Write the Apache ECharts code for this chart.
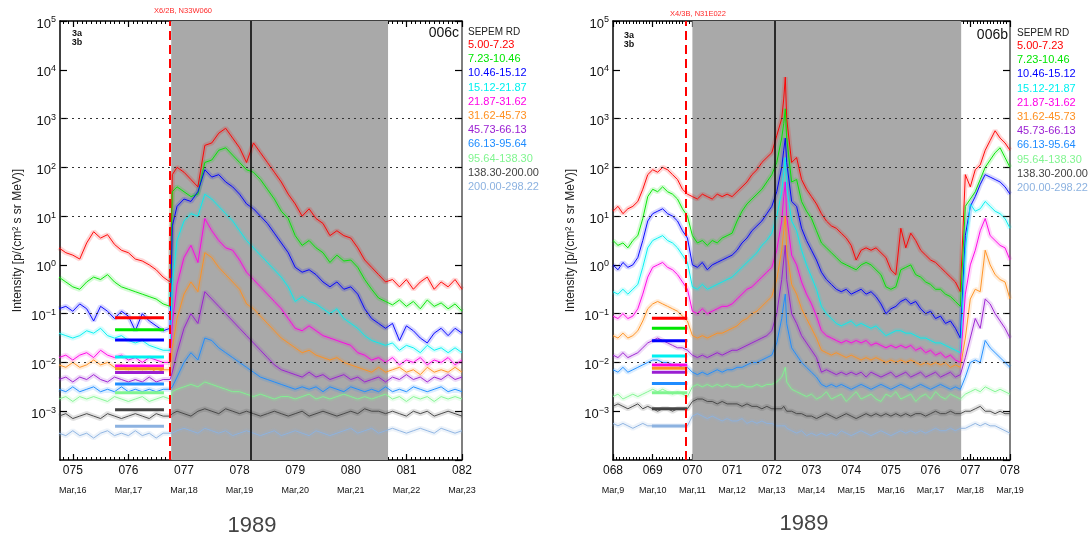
<!DOCTYPE html>
<html><head><meta charset="utf-8">
<script src="https://cdn.jsdelivr.net/npm/echarts@6/dist/echarts.min.js"></script>
<style>html,body{margin:0;padding:0;background:#fff}#c{width:1092px;height:541px}</style>
</head><body><div id="c"></div>
<script>
// ---------- categories / labels ----------
const channels = ['5.00-7.23','7.23-10.46','10.46-15.12','15.12-21.87','21.87-31.62','31.62-45.73','45.73-66.13','66.13-95.64','95.64-138.30','138.30-200.00','200.00-298.22'];
const channelColors = ['#ff0000','#00e600','#0000ff','#00f0f0','#ff00e6','#ff9020','#9a1ed2','#1e8cff','#80f590','#444444','#8cb2e0'];
const leftDays = [75,76,77,78,79,80,81,82];
const leftDayLabels = ['075','076','077','078','079','080','081','082'];
const leftDateLabels = ['Mar,16','Mar,17','Mar,18','Mar,19','Mar,20','Mar,21','Mar,22','Mar,23'];
const rightDays = [68,69,70,71,72,73,74,75,76,77,78];
const rightDayLabels = ['068','069','070','071','072','073','074','075','076','077','078'];
const rightDateLabels = ['Mar,9','Mar,10','Mar,11','Mar,12','Mar,13','Mar,14','Mar,15','Mar,16','Mar,17','Mar,18','Mar,19'];
const refLevels = [1000, 100, 10, 0.1, 0.005];

// ---------- event markers (day of year) ----------
const leftRange = [74.77, 82];
const rightRange = [68, 78];
const leftShade = [76.77, 80.67];
const rightShade = [70.0, 76.77];
const leftFlare = 76.75, rightFlare = 69.84;
const leftLine = 78.2, rightLine = 72.08;
const leftFlareText = 'X6/2B, N33W060';
const rightFlareText = 'X4/3B, N31E022';

// ---------- threshold bars ----------
const leftBarSpan = [75.76, 76.64];
const leftBarLevels = [0.082, 0.047, 0.029, 0.013, 0.0085, 0.0074, 0.0062, 0.0036, 0.0024, 0.00107, 0.00049];
const rightBarSpan = [68.98, 69.87];
const rightBarLevels = [0.081, 0.05, 0.028, 0.0135, 0.0089, 0.0076, 0.0063, 0.0037, 0.0024, 0.00112, 0.0005];

// ---------- left panel (log10 intensity) ----------
const leftT = [74.75,74.875,75,75.125,75.25,75.375,75.5,75.625,75.75,75.875,76,76.125,76.25,76.375,76.5,76.625,76.75,76.79,76.875,77,77.125,77.25,77.375,77.5,77.625,77.75,77.875,78,78.125,78.25,78.375,78.5,78.625,78.75,78.875,79,79.125,79.25,79.375,79.5,79.625,79.75,79.875,80,80.125,80.25,80.375,80.5,80.625,80.75,80.875,81,81.125,81.25,81.375,81.5,81.625,81.75,81.875,82];
const leftRed = [0.35,0.25,0.2,0.12,0.45,0.68,0.55,0.62,0.42,0.3,0.25,0.12,0.08,0.0,-0.1,-0.25,-0.35,1.85,2.0,1.9,1.75,1.6,2.45,2.5,2.7,2.8,2.6,2.4,2.1,2.5,2.3,2.1,1.9,1.7,1.45,1.25,1.0,1.15,0.95,0.85,0.6,0.7,0.6,0.55,0.35,0.1,-0.05,-0.2,-0.35,-0.3,-0.45,-0.3,-0.5,-0.35,-0.25,-0.5,-0.35,-0.45,-0.3,-0.5];
const leftGreen = [-0.25,-0.35,-0.45,-0.5,-0.35,-0.25,-0.3,-0.2,-0.35,-0.45,-0.5,-0.55,-0.6,-0.65,-0.7,-0.8,-0.85,1.5,1.6,1.5,1.4,1.45,2.1,2.15,2.35,2.4,2.25,2.1,1.95,1.9,1.75,1.55,1.35,1.1,0.95,0.6,0.4,0.5,0.35,0.25,0.05,0.2,0.08,0.1,-0.05,-0.3,-0.5,-0.68,-0.75,-0.82,-0.72,-0.85,-0.75,-0.9,-0.72,-0.85,-0.78,-0.9,-0.8,-0.95];
const leftBlue = [-0.9,-0.85,-0.95,-0.8,-0.9,-1.15,-0.85,-0.95,-1.1,-0.95,-1.05,-1.35,-1.0,-1.15,-1.25,-1.35,-1.3,0.8,1.2,1.35,1.3,1.5,1.95,1.8,1.85,1.7,1.6,1.45,1.25,1.15,1.0,0.85,0.65,0.45,0.25,-0.05,-0.15,-0.1,-0.2,-0.35,-0.45,-0.35,-0.5,-0.45,-0.6,-0.9,-1.1,-1.2,-1.3,-1.2,-1.55,-1.25,-1.35,-1.5,-1.6,-1.4,-1.3,-1.45,-1.3,-1.4];
const leftCyan = [-1.4,-1.45,-1.5,-1.45,-1.35,-1.4,-1.3,-1.45,-1.5,-1.45,-1.55,-1.6,-1.55,-1.65,-1.7,-1.75,-1.75,-0.4,0.5,0.9,1.05,1.0,1.45,1.35,1.2,1.05,0.9,0.7,0.5,0.35,0.2,0.05,-0.1,-0.25,-0.45,-0.75,-0.65,-0.75,-0.8,-0.9,-1.0,-0.9,-1.1,-1.2,-1.3,-1.45,-1.55,-1.6,-1.65,-1.6,-1.75,-1.65,-1.7,-1.8,-1.65,-1.75,-1.7,-1.8,-1.7,-1.8];
const leftMagenta = [-1.9,-1.85,-1.95,-1.85,-1.8,-1.9,-1.75,-1.85,-1.9,-1.85,-1.95,-1.9,-2.0,-1.9,-1.95,-2.0,-2.0,-1.2,-0.4,0.15,0.4,0.05,0.95,0.7,0.5,0.35,0.3,0.1,-0.15,-0.3,-0.45,-0.6,-0.75,-0.9,-1.1,-1.3,-1.35,-1.25,-1.35,-1.45,-1.5,-1.55,-1.6,-1.65,-1.8,-1.85,-1.95,-1.9,-2.0,-1.9,-2.05,-1.95,-2.0,-1.9,-2.05,-1.95,-2.0,-1.9,-2.05,-1.95];
const leftOrange = [-2.05,-2.1,-2.0,-2.1,-2.05,-1.95,-2.05,-2.0,-2.1,-2.05,-2.15,-2.1,-2.15,-2.1,-2.2,-2.15,-2.15,-1.7,-1.1,-0.6,-0.35,-0.55,0.25,0.15,-0.05,-0.2,-0.35,-0.5,-0.8,-0.9,-1.05,-1.2,-1.35,-1.5,-1.6,-1.7,-1.8,-1.75,-1.85,-1.9,-1.95,-1.9,-2.0,-2.05,-2.1,-2.15,-2.2,-2.1,-2.2,-2.15,-2.1,-2.2,-2.15,-2.25,-2.1,-2.2,-2.15,-2.2,-2.1,-2.2];
const leftPurple = [-2.35,-2.3,-2.4,-2.3,-2.35,-2.25,-2.35,-2.4,-2.3,-2.35,-2.4,-2.35,-2.4,-2.3,-2.4,-2.35,-2.35,-2.2,-1.8,-1.3,-1.0,-1.2,-0.55,-0.7,-0.85,-1.0,-1.15,-1.3,-1.45,-1.6,-1.75,-1.9,-2.05,-2.15,-2.2,-2.25,-2.3,-2.2,-2.3,-2.25,-2.35,-2.3,-2.25,-2.35,-2.3,-2.4,-2.35,-2.3,-2.4,-2.3,-2.35,-2.25,-2.35,-2.3,-2.4,-2.3,-2.35,-2.25,-2.35,-2.3];
const leftAzure = [-2.55,-2.6,-2.5,-2.6,-2.55,-2.5,-2.6,-2.55,-2.6,-2.5,-2.6,-2.55,-2.6,-2.55,-2.6,-2.55,-2.55,-2.5,-2.3,-2.0,-1.8,-1.95,-1.5,-1.55,-1.7,-1.8,-1.9,-2.0,-2.1,-2.2,-2.3,-2.35,-2.4,-2.45,-2.5,-2.55,-2.5,-2.55,-2.5,-2.6,-2.5,-2.55,-2.6,-2.5,-2.55,-2.6,-2.55,-2.6,-2.5,-2.6,-2.55,-2.6,-2.5,-2.55,-2.6,-2.55,-2.5,-2.6,-2.55,-2.6];
const leftLightGreen = [-2.75,-2.7,-2.8,-2.7,-2.75,-2.7,-2.75,-2.8,-2.7,-2.75,-2.8,-2.75,-2.7,-2.8,-2.75,-2.7,-2.75,-2.6,-2.55,-2.5,-2.45,-2.5,-2.4,-2.45,-2.5,-2.55,-2.6,-2.6,-2.65,-2.7,-2.65,-2.7,-2.75,-2.7,-2.7,-2.75,-2.7,-2.65,-2.75,-2.7,-2.75,-2.7,-2.65,-2.7,-2.75,-2.7,-2.75,-2.7,-2.65,-2.75,-2.7,-2.8,-2.7,-2.75,-2.7,-2.8,-2.7,-2.75,-2.7,-2.75];
const leftGray = [-3.1,-3.05,-3.15,-3.1,-3.05,-3.1,-3.15,-3.05,-3.1,-3.15,-3.1,-3.05,-3.1,-3.15,-3.05,-3.1,-3.1,-3.05,-3.0,-3.05,-3.1,-3.0,-2.95,-3.0,-3.05,-2.95,-3.0,-3.05,-3.0,-3.05,-3.1,-3.05,-3.0,-3.05,-3.1,-3.05,-3.0,-3.1,-3.05,-3.0,-3.05,-3.1,-3.05,-3.0,-3.05,-2.95,-3.0,-3.0,-3.05,-3.0,-3.05,-3.1,-3.0,-3.05,-3.0,-3.1,-3.05,-3.0,-3.05,-3.1];
const leftLightBlue = [-3.45,-3.5,-3.4,-3.5,-3.45,-3.55,-3.45,-3.4,-3.5,-3.45,-3.5,-3.4,-3.5,-3.45,-3.55,-3.45,-3.45,-3.45,-3.4,-3.35,-3.4,-3.45,-3.35,-3.4,-3.45,-3.4,-3.5,-3.45,-3.4,-3.45,-3.5,-3.45,-3.4,-3.5,-3.45,-3.4,-3.45,-3.5,-3.4,-3.45,-3.5,-3.45,-3.4,-3.35,-3.45,-3.4,-3.35,-3.45,-3.4,-3.35,-3.4,-3.45,-3.4,-3.35,-3.4,-3.45,-3.35,-3.4,-3.45,-3.4];

// ---------- right panel (log10 intensity) ----------
const rightT = [68,68.125,68.25,68.375,68.5,68.625,68.75,68.875,69,69.125,69.25,69.375,69.5,69.625,69.75,69.875,70,70.125,70.25,70.375,70.5,70.625,70.75,70.875,71,71.125,71.25,71.375,71.5,71.625,71.75,71.875,72,72.125,72.25,72.3,72.34,72.375,72.5,72.625,72.75,72.875,73,73.125,73.25,73.375,73.5,73.625,73.75,73.875,74,74.125,74.25,74.375,74.5,74.625,74.75,74.875,75,75.125,75.25,75.375,75.5,75.625,75.75,75.875,76,76.125,76.25,76.375,76.5,76.625,76.75,76.875,77,77.125,77.25,77.375,77.5,77.625,77.75,77.875,78];
const rightRed = [1.1,1.2,1.05,1.15,1.2,1.3,1.55,1.85,1.95,1.9,2.0,1.95,1.85,1.75,1.55,1.45,1.4,1.35,1.45,1.4,1.35,1.45,1.4,1.45,1.4,1.5,1.6,1.7,1.85,1.95,2.1,2.2,2.3,2.65,3.0,3.4,3.85,3.0,2.1,2.2,1.75,1.55,1.4,1.25,1.05,0.9,0.8,0.75,0.65,0.55,0.4,0.1,0.3,0.35,0.3,0.35,0.25,0.15,-0.1,-0.2,0.75,0.35,0.65,0.5,0.3,0.2,0.1,0.05,-0.05,-0.15,-0.25,-0.35,-0.55,1.85,1.6,1.95,2.05,2.35,2.55,2.75,2.6,2.5,2.35];
const rightGreen = [0.5,0.4,0.45,0.35,0.5,0.6,0.95,1.4,1.55,1.5,1.6,1.5,1.45,1.35,1.15,1.0,0.6,0.45,0.5,0.4,0.5,0.45,0.55,0.6,0.65,0.9,1.1,1.25,1.35,1.45,1.55,1.7,1.85,2.1,2.6,2.9,3.2,2.6,1.7,1.75,1.3,1.1,0.95,0.7,0.45,0.35,0.25,0.15,0.05,0.0,-0.05,-0.1,0.0,0.05,0.0,-0.1,-0.2,-0.45,-0.5,-0.45,-0.1,-0.05,0.0,-0.2,-0.25,-0.35,-0.4,-0.5,-0.5,-0.6,-0.65,-0.75,-0.85,1.2,1.35,1.5,1.75,2.0,2.15,2.3,2.4,2.2,2.0];
const rightBlue = [0.0,-0.1,0.05,-0.05,0.0,0.15,0.5,0.9,1.05,1.1,1.15,1.05,1.0,0.9,0.7,0.55,0.0,-0.05,0.05,-0.1,0.0,0.05,0.1,0.15,0.2,0.3,0.45,0.55,0.7,0.8,0.9,1.05,1.2,1.5,2.0,2.35,2.6,2.1,1.3,1.2,0.75,0.5,0.3,0.1,-0.15,-0.3,-0.4,-0.5,-0.55,-0.5,-0.6,-0.55,-0.5,-0.6,-0.55,-0.65,-0.8,-1.0,-0.9,-0.85,-0.75,-0.7,-0.8,-0.75,-0.9,-1.0,-0.95,-1.1,-1.05,-1.2,-1.15,-1.3,-1.5,0.6,1.2,1.4,1.65,1.85,1.8,1.75,1.7,1.6,1.45];
const rightCyan = [-0.55,-0.6,-0.5,-0.6,-0.5,-0.4,-0.05,0.35,0.5,0.55,0.6,0.5,0.45,0.35,0.2,0.05,-0.45,-0.5,-0.4,-0.5,-0.45,-0.4,-0.35,-0.3,-0.25,-0.15,-0.05,0.05,0.15,0.25,0.4,0.5,0.65,1.0,1.5,1.9,2.2,1.6,0.9,0.7,0.3,0.0,-0.25,-0.5,-0.85,-1.0,-1.1,-1.2,-1.25,-1.2,-1.15,-1.25,-1.2,-1.25,-1.3,-1.25,-1.35,-1.45,-1.4,-1.35,-1.35,-1.4,-1.4,-1.45,-1.5,-1.5,-1.55,-1.6,-1.6,-1.65,-1.7,-1.75,-1.8,0.3,1.25,1.1,1.15,1.3,1.2,1.1,1.05,0.95,0.75];
const rightMagenta = [-1.05,-1.1,-1.0,-1.1,-1.05,-0.9,-0.6,-0.25,-0.05,0.0,0.05,-0.05,-0.1,-0.2,-0.35,-0.5,-0.95,-1.0,-0.9,-1.0,-0.95,-0.9,-0.85,-0.85,-0.8,-0.7,-0.6,-0.5,-0.45,-0.35,-0.25,-0.15,-0.05,0.3,0.9,1.4,1.7,1.0,0.2,0.0,-0.35,-0.6,-0.8,-1.05,-1.35,-1.45,-1.5,-1.55,-1.6,-1.55,-1.6,-1.55,-1.6,-1.55,-1.65,-1.6,-1.65,-1.7,-1.65,-1.7,-1.65,-1.7,-1.65,-1.75,-1.7,-1.8,-1.75,-1.85,-1.8,-1.9,-1.85,-1.95,-2.0,-0.6,0.0,0.3,0.7,0.95,0.6,0.5,0.4,0.35,0.1];
const rightOrange = [-1.45,-1.5,-1.4,-1.5,-1.45,-1.35,-1.15,-0.9,-0.8,-0.75,-0.8,-0.85,-0.9,-0.95,-1.05,-1.15,-1.45,-1.5,-1.45,-1.5,-1.45,-1.4,-1.4,-1.35,-1.3,-1.25,-1.15,-1.1,-1.0,-0.95,-0.85,-0.75,-0.65,-0.3,0.3,0.7,1.0,0.3,-0.4,-0.6,-0.9,-1.1,-1.3,-1.5,-1.75,-1.8,-1.85,-1.8,-1.85,-1.9,-1.85,-1.9,-1.95,-1.9,-1.95,-1.9,-1.95,-2.0,-1.95,-2.0,-1.95,-2.0,-1.95,-2.0,-2.05,-2.0,-2.05,-2.0,-2.05,-2.0,-2.1,-2.05,-2.1,-1.5,-0.7,-0.5,-0.55,0.3,0.0,-0.2,-0.3,-0.35,-0.7];
const rightPurple = [-1.85,-1.9,-1.8,-1.9,-1.85,-1.8,-1.7,-1.6,-1.55,-1.5,-1.55,-1.6,-1.65,-1.7,-1.7,-1.75,-1.85,-1.9,-1.85,-1.9,-1.85,-1.8,-1.85,-1.8,-1.75,-1.75,-1.7,-1.65,-1.6,-1.55,-1.5,-1.45,-1.35,-1.0,-0.3,0.1,0.4,-0.3,-1.0,-1.2,-1.45,-1.6,-1.75,-1.9,-2.2,-2.15,-2.2,-2.25,-2.2,-2.25,-2.2,-2.25,-2.2,-2.3,-2.2,-2.25,-2.3,-2.25,-2.2,-2.3,-2.25,-2.2,-2.3,-2.25,-2.2,-2.3,-2.25,-2.2,-2.3,-2.25,-2.2,-2.3,-2.25,-1.9,-1.5,-1.1,-1.3,-0.7,-0.8,-1.0,-1.15,-1.3,-1.5];
const rightAzure = [-2.15,-2.2,-2.1,-2.2,-2.15,-2.1,-2.05,-2.0,-1.95,-1.95,-2.0,-2.0,-2.05,-2.05,-2.1,-2.1,-2.2,-2.25,-2.2,-2.25,-2.2,-2.15,-2.2,-2.15,-2.15,-2.1,-2.1,-2.05,-2.0,-2.0,-1.95,-1.9,-1.85,-1.6,-1.1,-0.8,-0.6,-1.2,-1.7,-1.85,-2.0,-2.1,-2.2,-2.3,-2.45,-2.5,-2.45,-2.5,-2.45,-2.5,-2.55,-2.5,-2.45,-2.5,-2.55,-2.5,-2.45,-2.5,-2.55,-2.5,-2.45,-2.5,-2.55,-2.5,-2.45,-2.5,-2.55,-2.5,-2.45,-2.5,-2.55,-2.5,-2.55,-2.3,-2.0,-1.95,-2.0,-1.55,-1.7,-1.8,-1.9,-2.0,-2.1];
const rightLightGreen = [-2.7,-2.65,-2.75,-2.7,-2.65,-2.7,-2.65,-2.6,-2.55,-2.6,-2.55,-2.6,-2.65,-2.6,-2.65,-2.7,-2.5,-2.45,-2.5,-2.45,-2.5,-2.45,-2.5,-2.45,-2.5,-2.5,-2.45,-2.5,-2.5,-2.45,-2.5,-2.45,-2.45,-2.4,-2.3,-2.2,-2.1,-2.4,-2.55,-2.6,-2.65,-2.7,-2.65,-2.75,-2.7,-2.6,-2.75,-2.7,-2.65,-2.8,-2.7,-2.6,-2.75,-2.7,-2.65,-2.75,-2.8,-2.65,-2.7,-2.6,-2.75,-2.7,-2.65,-2.8,-2.7,-2.65,-2.75,-2.6,-2.7,-2.75,-2.65,-2.7,-2.75,-2.65,-2.6,-2.55,-2.6,-2.5,-2.55,-2.6,-2.55,-2.6,-2.65];
const rightGray = [-2.9,-2.85,-2.9,-2.95,-2.9,-2.85,-2.95,-2.9,-2.95,-3.0,-2.95,-2.95,-3.0,-2.95,-2.95,-2.95,-2.8,-2.75,-2.75,-2.8,-2.8,-2.85,-2.8,-2.85,-2.85,-2.85,-2.9,-2.85,-2.9,-2.9,-2.95,-2.9,-2.95,-2.95,-2.95,-2.9,-2.9,-3.0,-3.0,-3.05,-3.05,-3.1,-3.1,-3.15,-3.1,-3.05,-3.1,-3.15,-3.1,-3.05,-3.1,-3.15,-3.1,-3.05,-3.1,-3.05,-3.1,-3.05,-3.1,-3.05,-3.1,-3.05,-3.1,-3.05,-3.05,-3.1,-3.05,-3.0,-3.05,-3.05,-3.0,-3.05,-3.05,-3.0,-3.0,-2.95,-2.9,-3.0,-3.0,-3.05,-3.0,-3.05,-3.05];
const rightLightBlue = [-3.25,-3.3,-3.25,-3.3,-3.35,-3.3,-3.25,-3.3,-3.3,-3.3,-3.3,-3.3,-3.3,-3.3,-3.3,-3.3,-3.1,-3.05,-3.1,-3.15,-3.1,-3.15,-3.2,-3.15,-3.2,-3.2,-3.15,-3.25,-3.2,-3.25,-3.2,-3.25,-3.25,-3.3,-3.3,-3.3,-3.3,-3.35,-3.4,-3.45,-3.4,-3.5,-3.45,-3.5,-3.45,-3.5,-3.45,-3.5,-3.4,-3.45,-3.5,-3.45,-3.4,-3.45,-3.5,-3.45,-3.4,-3.45,-3.5,-3.45,-3.4,-3.45,-3.4,-3.45,-3.4,-3.45,-3.4,-3.35,-3.4,-3.4,-3.35,-3.4,-3.35,-3.35,-3.3,-3.25,-3.3,-3.25,-3.3,-3.3,-3.35,-3.4,-3.45];

const leftLogs = [leftRed,leftGreen,leftBlue,leftCyan,leftMagenta,leftOrange,leftPurple,leftAzure,leftLightGreen,leftGray,leftLightBlue];
const rightLogs = [rightRed,rightGreen,rightBlue,rightCyan,rightMagenta,rightOrange,rightPurple,rightAzure,rightLightGreen,rightGray,rightLightBlue];

// ---------- build ----------
const F = 'Liberation Sans, Arial, sans-serif';
const chart = echarts.init(document.getElementById('c'), null, {renderer:'canvas'});
const toPts = (t, logs) => t.map((x, i) => [x, Math.pow(10, logs[i])]);

function minorTicks(r){ const out=[]; const s=Math.ceil(r[0]*12-1e-6); for(let k=s;k<=Math.floor(r[1]*12+1e-6);k++){ out.push(k/12);} return out; }

function xAxes(gridIndex, range, days, dayLabels, dateLabels){
  const base = {type:'value', gridIndex, min:range[0], max:range[1], splitLine:{show:false}};
  return [
    Object.assign({}, base, {position:'bottom',
      axisLine:{show:true, onZero:false, lineStyle:{color:'#000', width:1.5}},
      axisTick:{show:true, inside:true, length:6, customValues:days, lineStyle:{color:'#000', width:1.2}},
      axisLabel:{show:true, customValues:days, margin:3,
        formatter: v => { const i = days.indexOf(Math.round(v)); return '{a|'+dayLabels[i]+'}\n{b|'+dateLabels[i]+'}'; },
        rich:{a:{fontSize:12, lineHeight:16, color:'#111', fontFamily:F}, b:{fontSize:9, lineHeight:24, color:'#111', fontFamily:F}}}}),
    Object.assign({}, base, {position:'bottom', axisLine:{show:false, onZero:false},
      axisTick:{show:true, inside:true, length:3, customValues:minorTicks(range), lineStyle:{color:'#000', width:1}}, axisLabel:{show:false}}),
    Object.assign({}, base, {position:'top',
      axisLine:{show:true, onZero:false, lineStyle:{color:'#000', width:1.5}},
      axisTick:{show:true, inside:true, length:6, customValues:days, lineStyle:{color:'#000', width:1.2}}, axisLabel:{show:false}}),
    Object.assign({}, base, {position:'top', axisLine:{show:false, onZero:false},
      axisTick:{show:true, inside:true, length:3, customValues:minorTicks(range), lineStyle:{color:'#000', width:1}}, axisLabel:{show:false}})
  ];
}
function yAxes(gridIndex){
  const base = {type:'log', logBase:10, gridIndex, min:1e-4, max:1e5, interval:1, splitLine:{show:false}, minorTick:{show:false}};
  return [
    Object.assign({}, base, {position:'left',
      name:'Intensity [p/(cm² s sr MeV)]', nameLocation:'middle', nameGap:36, nameRotate:90,
      nameTextStyle:{fontSize:12, color:'#222', fontFamily:F},
      axisLine:{show:true, onZero:false, lineStyle:{color:'#000', width:1.5}},
      axisTick:{show:true, inside:true, length:7, lineStyle:{color:'#000', width:1.2}},
      axisLabel:{show:true, margin:4, showMinLabel:false,
        formatter: v => { const e = Math.round(Math.log10(v)); return '{b|10}{s|' + (e<0 ? '\u2212'+(-e) : e) + '}'; },
        rich:{b:{fontSize:13, color:'#111', fontFamily:F, padding:[6,0,0,0]}, s:{fontSize:9, color:'#111', fontFamily:F, padding:[0,0,2,0]}}}}),
    Object.assign({}, base, {position:'right',
      axisLine:{show:true, onZero:false, lineStyle:{color:'#555', width:1.5}},
      axisTick:{show:true, inside:true, length:7, lineStyle:{color:'#000', width:1.2}}, axisLabel:{show:false}})
  ];
}

const series = [];
function panel(xi, yi, range, shade, flare, vline, T, logs, barSpan, barLevels){
  series.push({type:'line', xAxisIndex:xi, yAxisIndex:yi, data:[[range[0],1e-4],[range[1],1e-4]], symbol:'none', silent:true,
    lineStyle:{opacity:0}, z:1,
    markArea:{silent:true, itemStyle:{color:'#a9a9a9', opacity:1}, data:[[{xAxis:shade[0]},{xAxis:shade[1]}]]},
    markLine:{silent:true, symbol:['none','none'], label:{show:false}, animation:false,
      lineStyle:{color:'#333', type:[2,4], width:1},
      data: refLevels.map(v => ({yAxis:v}))}});
  logs.forEach((arr, c) => {
    const pts = toPts(T, arr);
    // soft halo to mimic the fuzzy, high-cadence trace
    series.push({type:'line', xAxisIndex:xi, yAxisIndex:yi, data:pts, symbol:'none', showSymbol:false,
      silent:true, z:2, lineStyle:{color:channelColors[c], width:5, opacity:0.16}});
    series.push({type:'line', name:channels[c], xAxisIndex:xi, yAxisIndex:yi, data:pts, symbol:'none', showSymbol:false,
      silent:true, z:3, lineStyle:{color:channelColors[c], width:1, opacity:0.95}});
  });
  barLevels.forEach((v, c) => {
    series.push({type:'line', xAxisIndex:xi, yAxisIndex:yi, data:[[barSpan[0],v],[barSpan[1],v]], symbol:'none', silent:true, z:4,
      lineStyle:{color:channelColors[c], width:3}});
  });
  series.push({type:'line', xAxisIndex:xi, yAxisIndex:yi, data:[[range[0],1e-4]], symbol:'none', silent:true, z:5, lineStyle:{opacity:0},
    markLine:{silent:true, symbol:['none','none'], label:{show:false}, animation:false,
      data:[{xAxis:flare, lineStyle:{color:'#ff0000', type:[9,5], width:2}},
            {xAxis:vline, lineStyle:{color:'#000', type:'solid', width:1.5}}]}});
}
panel(0, 0, leftRange, leftShade, leftFlare, leftLine, leftT, leftLogs, leftBarSpan, leftBarLevels);
panel(4, 2, rightRange, rightShade, rightFlare, rightLine, rightT, rightLogs, rightBarSpan, rightBarLevels);

const txt = (text, x, y, size, color, align, extra) => Object.assign({type:'text', x, y, silent:true,
  style:{text, fill:color, font: (extra||'') + ' ' + size + 'px ' + F, textAlign:align||'left', align:align||'left', textVerticalAlign:'middle', verticalAlign:'middle'}});
const graphics = [];
function legend(x, y0){
  graphics.push(txt('SEPEM RD', x, y0, 10, '#222'));
  channels.forEach((n, i) => graphics.push(txt(n, x, y0 + 13 + i*14.2, 11, channelColors[i])));
}
legend(468, 32); legend(1017, 33);
graphics.push(txt(leftFlareText, 183, 11, 7.5, '#ff2a2a', 'center'));
graphics.push(txt(rightFlareText, 698, 14, 7.5, '#ff2a2a', 'center'));
graphics.push(txt('006c', 459, 33, 14, '#111', 'right'));
graphics.push(txt('006b', 1008, 35, 14, '#111', 'right'));
graphics.push(txt('3a', 77, 34, 9, '#111', 'center', 'bold'));
graphics.push(txt('3b', 77, 43, 9, '#111', 'center', 'bold'));
graphics.push(txt('3a', 629, 36, 9, '#111', 'center', 'bold'));
graphics.push(txt('3b', 629, 45, 9, '#111', 'center', 'bold'));
graphics.push(txt('1989', 252, 526, 22, '#444', 'center'));
graphics.push(txt('1989', 804, 524, 22, '#444', 'center'));

chart.setOption({
  animation:false,
  backgroundColor:'#fff',
  grid:[{left:60, top:21, width:402, height:439}, {left:613, top:21, width:397, height:439}],
  xAxis:[].concat(xAxes(0, leftRange, leftDays, leftDayLabels, leftDateLabels), xAxes(1, rightRange, rightDays, rightDayLabels, rightDateLabels)),
  yAxis:[].concat(yAxes(0), yAxes(1)),
  series,
  graphic:{elements:graphics}
});
</script></body></html>
